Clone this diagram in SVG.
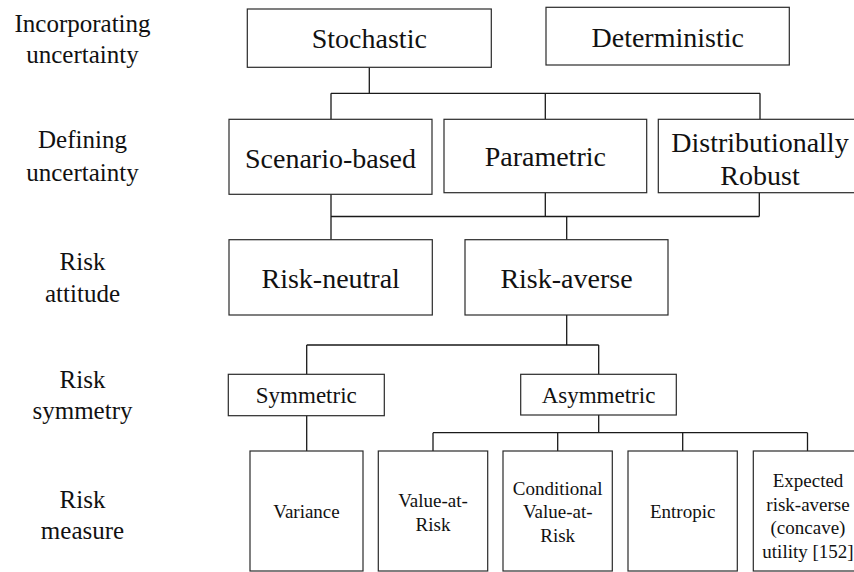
<svg xmlns="http://www.w3.org/2000/svg" width="854" height="572" viewBox="0 0 854 572">
  <style>
    text { font-family: 'Liberation Serif', 'Times New Roman', 'DejaVu Serif', serif; fill: #111; text-anchor: middle; }
    .lbl { font-size: 25px; }
    .big { font-size: 28px; }
    .mid { font-size: 23px; }
    .sml { font-size: 19px; }
    .box { fill: #fff; stroke: #2a2a2a; stroke-width: 1.2; }
    .wire { fill: none; stroke: #1a1a1a; stroke-width: 1.3; }
  </style>

  <!-- row captions -->
  <g id="row-labels">
    <text class="lbl" x="82.5" y="32">Incorporating</text>
    <text class="lbl" x="82.5" y="63">uncertainty</text>
    <text class="lbl" x="82.5" y="148">Defining</text>
    <text class="lbl" x="82.5" y="181">uncertainty</text>
    <text class="lbl" x="82.5" y="270">Risk</text>
    <text class="lbl" x="82.5" y="302">attitude</text>
    <text class="lbl" x="82.5" y="388">Risk</text>
    <text class="lbl" x="82.5" y="419">symmetry</text>
    <text class="lbl" x="82.5" y="508">Risk</text>
    <text class="lbl" x="82.5" y="539">measure</text>
  </g>

  <!-- connectors -->
  <g id="connectors" class="wire">
    <path d="M369.3 67.3V93.3M331 93.3H760M331 93.3V119.3M545.3 93.3V119.3M760 93.3V119.3"/>
    <path d="M331 194.3V239.7M331 216.5H759.3M545.3 192.7V216.5M759.3 192.7V216.5M566.7 216.5V239.7"/>
    <path d="M566.7 315V345M306.7 345H598.7M306.7 345V374.3M598.7 345V374.3"/>
    <path d="M306.7 415.7V451M598.7 415V432.7M433 432.7H807.5M433 432.7V451M557.7 432.7V451M682.7 432.7V451M807.5 432.7V451"/>
  </g>

  <!-- level 1 -->
  <g id="stochastic">
    <rect class="box" x="247.3" y="9" width="244" height="58.3"/>
    <text class="big" x="369.3" y="48">Stochastic</text>
  </g>
  <g id="deterministic">
    <rect class="box" x="546" y="7.3" width="243.3" height="57.7"/>
    <text class="big" x="667.7" y="46.5">Deterministic</text>
  </g>

  <!-- level 2 -->
  <g id="scenario-based">
    <rect class="box" x="229" y="119.3" width="203" height="75"/>
    <text class="big" x="330.5" y="168">Scenario-based</text>
  </g>
  <g id="parametric">
    <rect class="box" x="444" y="119.3" width="202.7" height="73.4"/>
    <text class="big" x="545.3" y="166">Parametric</text>
  </g>
  <g id="distributionally-robust">
    <rect class="box" x="658.3" y="119.3" width="203.4" height="73.4"/>
    <text class="big" x="760" y="152">Distributionally</text>
    <text class="big" x="760" y="184.5">Robust</text>
  </g>

  <!-- level 3 -->
  <g id="risk-neutral">
    <rect class="box" x="229" y="239.7" width="203.3" height="75.3"/>
    <text class="big" x="330.7" y="287.5">Risk-neutral</text>
  </g>
  <g id="risk-averse">
    <rect class="box" x="465" y="239.7" width="203" height="75.3"/>
    <text class="big" x="566.5" y="287.5">Risk-averse</text>
  </g>

  <!-- level 4 -->
  <g id="symmetric">
    <rect class="box" x="228.3" y="374.3" width="156" height="41.4"/>
    <text class="mid" x="306.3" y="403">Symmetric</text>
  </g>
  <g id="asymmetric">
    <rect class="box" x="520.7" y="374.3" width="155.6" height="40.7"/>
    <text class="mid" x="598.5" y="403">Asymmetric</text>
  </g>

  <!-- level 5 -->
  <g id="variance">
    <rect class="box" x="250" y="451" width="113" height="120"/>
    <text class="sml" x="306.5" y="518">Variance</text>
  </g>
  <g id="value-at-risk">
    <rect class="box" x="378.3" y="451" width="109.4" height="120"/>
    <text class="sml" x="433" y="507">Value-at-</text>
    <text class="sml" x="433" y="530.5">Risk</text>
  </g>
  <g id="conditional-value-at-risk">
    <rect class="box" x="503" y="451" width="109.3" height="120"/>
    <text class="sml" x="557.7" y="494.5">Conditional</text>
    <text class="sml" x="557.7" y="518">Value-at-</text>
    <text class="sml" x="557.7" y="541.5">Risk</text>
  </g>
  <g id="entropic">
    <rect class="box" x="628" y="451" width="109.3" height="120"/>
    <text class="sml" x="682.7" y="518">Entropic</text>
  </g>
  <g id="expected-utility">
    <rect class="box" x="753.3" y="451" width="109.4" height="120"/>
    <text class="sml" x="808" y="487">Expected</text>
    <text class="sml" x="808" y="510.5">risk-averse</text>
    <text class="sml" x="808" y="534">(concave)</text>
    <text class="sml" x="808" y="557.5">utility [152]</text>
  </g>
</svg>
